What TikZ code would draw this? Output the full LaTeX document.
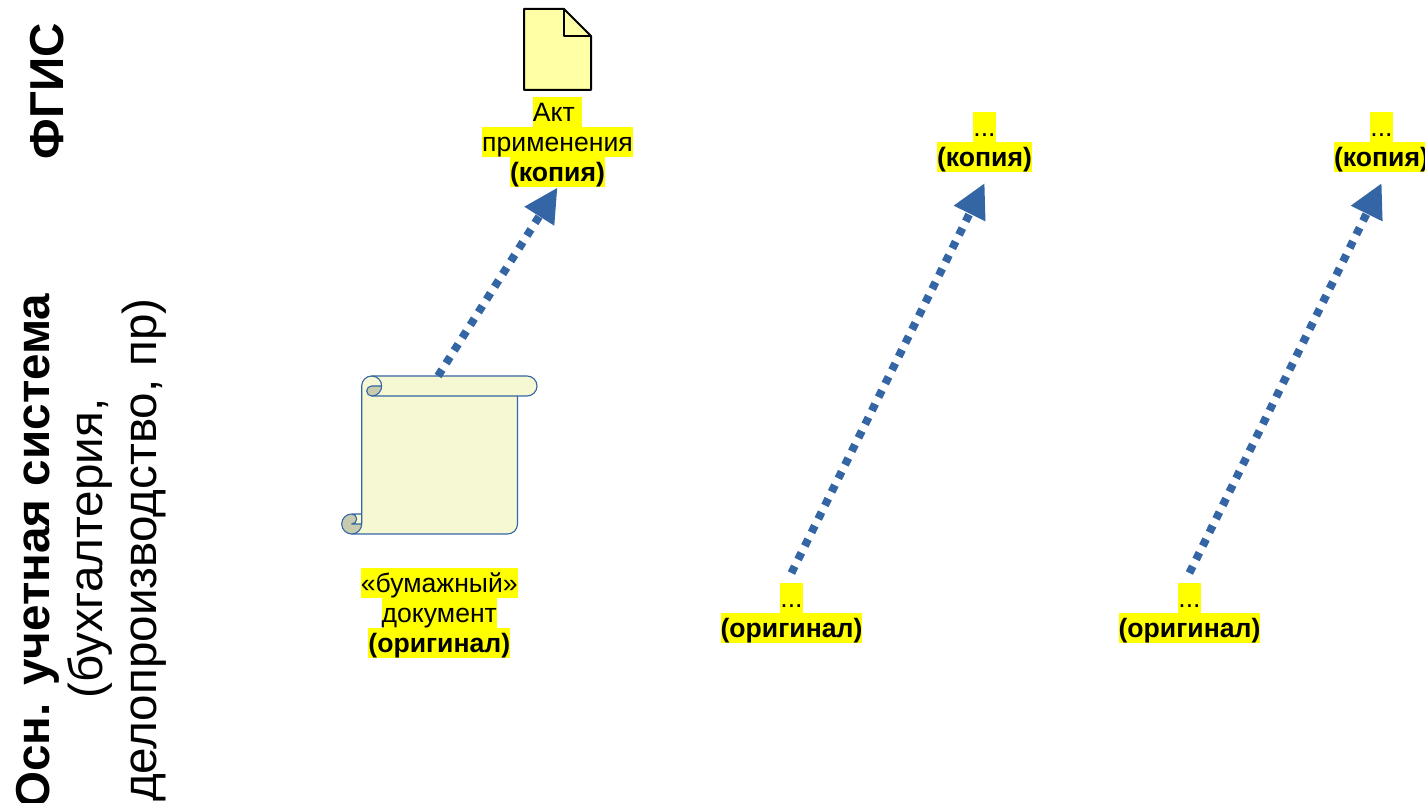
\documentclass[tikz,border=0pt]{standalone}
\usepackage{fontspec}
\setmainfont{Liberation Sans}
\usetikzlibrary{arrows.meta}
\usetikzlibrary{positioning}

\definecolor{arrowblue}{HTML}{3465A4}
\definecolor{docyellow}{HTML}{FFFFA6}
\definecolor{hlyellow}{HTML}{FFFF00}
\definecolor{scrollfill}{HTML}{F6F8D4}
\definecolor{curlfill}{HTML}{C9CBAE}

\tikzset{
    hl/.style={fill=hlyellow, inner sep=0pt, text height=24.2pt, text depth=5.6pt, font=\fontsize{26.6}{30}\selectfont},
    side/.style={rotate=90, inner sep=0pt, font=\fontsize{47.6}{55}\selectfont},
    copyarrow/.style={draw=arrowblue, line width=8pt, dash pattern=on 7.5pt off 7.6pt,
        -{Triangle[length=34pt,width=33pt,fill=arrowblue]}},
    scrollline/.style={draw=arrowblue, line width=1.1pt, line join=round}
}

\begin{document}
\begin{tikzpicture}[x=1pt,y=1pt]
    \useasboundingbox (0,0) rectangle (1425,803);

    % Side labels
    \node[side, anchor=base] (fgis) at (63, 711.5) {\textbf{ФГИС}};
    \node[side, anchor=base] (osn) at (49, 252) {\textbf{Осн. учетная система}};
    \node[side, anchor=base west] (buh) at (102.7, 104) {(бухгалтерия,};
    \node[side, anchor=base] (delo) at (156, 253) {делопроизводство, пр)};

    % Document
    \filldraw[fill=docyellow, line width=2pt, line join=round]
        (524, 794) -- (564, 794) -- (591, 767) -- (591, 713) -- (524, 713) -- cycle;
    \draw[line width=2pt, line join=round] (564, 794) -- (564, 767) -- (591, 767);

    % Scroll
    \fill[scrollfill] (361.7, 279) -- (361.7, 417) arc (180:90:10) -- (527, 427)
        arc (90:-90:10) -- (517.5, 407) -- (517.5, 279) arc (0:-90:10) -- (351.7, 269)
        -- (351.7, 289) -- (361.7, 289) -- cycle;
    \draw[scrollline] (361.7, 279) -- (361.7, 417) arc (180:90:10) -- (527, 427)
        arc (90:-90:10) -- (371.7, 407);
    \draw[scrollline] (517.5, 407) -- (517.5, 279) arc (0:-90:10) -- (351.7, 269);
    % top curl
    \fill[curlfill] (371.7, 417) -- (381.7, 417) arc (0:-90:10) arc (-90:-270:5) -- cycle;
    \draw[scrollline] (371.7, 427) arc (90:-90:10) arc (-90:-270:5) -- (381.7, 417);
    % bottom curl
    \fill[curlfill] (351.7, 289) arc (90:270:10) arc (-90:0:10) -- (351.7, 279) arc (-90:90:5) -- cycle;
    \draw[scrollline] (361.7, 289) -- (351.7, 289) arc (90:270:10) arc (-90:0:10) -- (351.7, 279) arc (-90:90:5);
    \coordinate (scroll) at (438, 427);

    % Copies
    \node[hl] (aktA) at (557.5, 691) {Акт~\mbox{}};
    \node[hl, below=0pt of aktA] (aktB) {применения};
    \node[hl, below=0pt of aktB] (aktC) {\textbf{(копия)}};

    \node[hl] (copyA) at (984.5, 676) {...};
    \node[hl, below=0pt of copyA] (copyB) {\textbf{(копия)}};

    \node[hl] (thirdA) at (1381.5, 676) {...};
    \node[hl, below=0pt of thirdA] (thirdB) {\textbf{(копия)}};

    % Originals
    \node[hl] (paperA) at (439.3, 220) {«бумажный»};
    \node[hl, below=0pt of paperA] (paperB) {документ};
    \node[hl, below=0pt of paperB] (paperC) {\textbf{(оригинал)}};

    \node[hl] (origA) at (791.5, 205) {...};
    \node[hl, below=0pt of origA] (origB) {\textbf{(оригинал)}};

    \node[hl] (lastA) at (1189.5, 205) {...};
    \node[hl, below=0pt of lastA] (lastB) {\textbf{(оригинал)}};

    % Arrows
    \draw[copyarrow] (scroll) -- (aktC.south);
    \draw[copyarrow, shorten <=11pt, shorten >=12pt] ([xshift=-5pt]origA.north) -- ([xshift=5.5pt]copyB.south);
    \draw[copyarrow, shorten <=11pt, shorten >=12pt] ([xshift=-5pt]lastA.north) -- ([xshift=5.5pt]thirdB.south);
\end{tikzpicture}
\end{document}
